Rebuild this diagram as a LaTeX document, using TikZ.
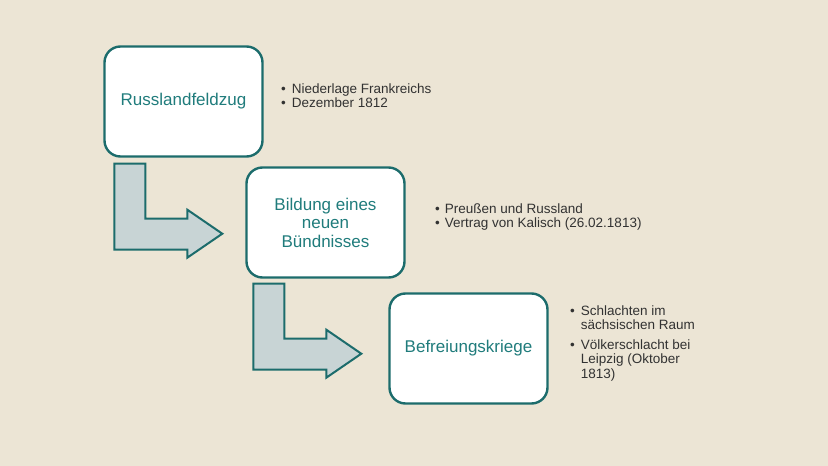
\documentclass[tikz,border=0pt]{standalone}
\usepackage{fontspec}
\setmainfont{Liberation Sans}
\definecolor{paper}{RGB}{236,229,213}
\definecolor{tealline}{RGB}{28,108,108}
\definecolor{tealtext}{RGB}{32,124,124}
\definecolor{arrowgray}{RGB}{200,212,213}
\definecolor{notegray}{RGB}{50,50,50}
\tikzset{
  stepbox/.style={draw=tealline,line width=2.4pt,fill=white,rounded corners=16pt,
    minimum width=158pt,minimum height=110pt,inner sep=0pt,align=center,
    text=tealtext,font=\fontsize{17}{18.5}\selectfont},
  notes/.style={anchor=north west,inner sep=0pt,text=notegray,
    font=\fontsize{13.5}{14.5}\selectfont},
  turnarrow/.pic={
    \draw[draw=tealline,line width=2pt,fill=arrowgray] (0,0) -- ++(31,0) -- ++(0,55)
      -- ++(42,0) -- ++(0,-9) -- ++(35,24) -- ++(-35,24) -- ++(0,-8) -- ++(-73,0) -- cycle;}
}
\begin{document}
\begin{tikzpicture}[x=1pt,y=-1pt]
        %% Background
        \fill[paper] (0,0) rectangle (828,466);
        \useasboundingbox (0,0) rectangle (828,466);
        %% Steps
        \node[stepbox] (russland) at (183.5,101.5) {Russlandfeldzug};
        \node[stepbox] (buendnis) at (325.5,222.5) {Bildung eines\\neuen\\Bündnisses};
        \node[stepbox] (befreiung) at (468.5,348.5) {Befreiungskriege};
        %% Arrows between the steps
        \pic at ([shift={(11,6)}]russland.south west) {turnarrow};
        \pic at ([shift={(8,5)}]buendnis.south west) {turnarrow};
        %% Notes
        \node[notes] (note1) at (281,83) {\begin{tabular}{@{}l@{\hspace{6pt}}l@{}}
            •&Niederlage Frankreichs\\
            •&Dezember 1812\end{tabular}};
        \node[notes] (note2) at (435,203) {\begin{tabular}{@{}l@{\hspace{5pt}}l@{}}
            •&Preußen und Russland\\
            •&Vertrag von Kalisch (26.02.1813)\end{tabular}};
        \node[notes] (note3) at (570,305) {\begin{tabular}{@{}l@{\hspace{6pt}}l@{}}
            •&Schlachten im\\
            &sächsischen Raum\\[5pt]
            •&Völkerschlacht bei\\
            &Leipzig (Oktober\\
            &1813)\end{tabular}};
    \end{tikzpicture}
\end{document}
